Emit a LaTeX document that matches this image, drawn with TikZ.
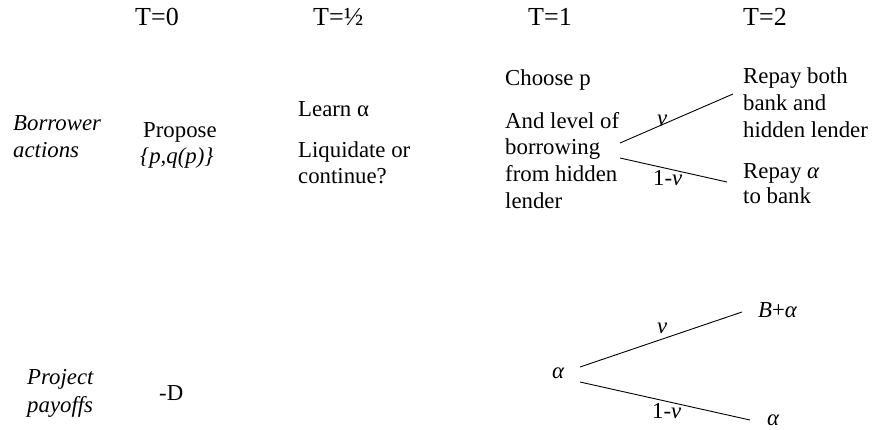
\documentclass[tikz,border=0pt]{standalone}
\usepackage{fontspec}
\setmainfont{Liberation Serif}
\begin{document}
\begin{tikzpicture}[x=1pt,y=-1pt,
  body/.style={anchor=base west,inner sep=0pt,font=\fontsize{22.8}{26}\selectfont},
  head/.style={anchor=base west,inner sep=0pt,font=\fontsize{26}{30}\selectfont},
  branch/.style={line width=0.9pt}]
\useasboundingbox (0,0) rectangle (873,429);
% headers
\node[head] (h0) at (135,25) {T=0};
\node[head] (h1) at (313,25) {T=½};
\node[head] (h2) at (528,25) {T=1};
\node[head] (h3) at (743,25) {T=2};
% row labels
\node[body] (ba1) at (13,130) {\itshape Borrower};
\node[body] (ba2) at (13,157) {\itshape actions};
\node[body] (pp1) at (27,384) {\itshape Project};
\node[body] (pp2) at (27,412) {\itshape payoffs};
% T=0
\node[body] (pr1) at (143,137) {Propose};
\node[body] (pr2) at (140,163) {\itshape \{p,q(p)\}};
\node[body] (md) at (159,400) {-D};
% T=1/2
\node[body] (le1) at (298,116) {Learn α};
\node[body] (le2) at (298,157) {Liquidate or};
\node[body] (le3) at (298,183) {continue?};
% T=1
\node[body] (ch1) at (505,85) {Choose p};
\node[body] (ch2) at (505,128) {And level of};
\node[body] (ch3) at (505,154.5) {borrowing};
\node[body] (ch4) at (505,181.5) {from hidden};
\node[body] (ch5) at (505,208) {lender};
% T=2
\node[body] (rb1) at (743,83) {Repay both};
\node[body] (rb2) at (743,110) {bank and};
\node[body] (rb3) at (743,137) {hidden lender};
\node[body] (ra1) at (743,178) {Repay \textit{α}};
\node[body] (ra2) at (743,203.5) {to bank};
% top tree
\coordinate (tu0) at (620,143);
\coordinate (tu1) at (733,94);
\coordinate (tl0) at (620,158);
\coordinate (tl1) at (727,182);
\draw[branch] (tu0) -- (tu1);
\draw[branch] (tl0) -- (tl1);
\node[body] (tnu) at (657,125) {\textit{ν}};
\node[body] (tnl) at (653,185) {1-\textit{ν}};
% bottom tree
\node[body] (a0) at (552,378) {\textit{α}};
\node[body] (ba) at (758,317) {\textit{B}+\textit{α}};
\node[body] (a2) at (767,425) {\textit{α}};
\coordinate (bu0) at (580,367);
\coordinate (bu1) at (742,312);
\coordinate (bl0) at (580,382);
\coordinate (bl1) at (750,420);
\draw[branch] (bu0) -- (bu1);
\draw[branch] (bl0) -- (bl1);
\node[body] (bnu) at (657,333) {\textit{ν}};
\node[body] (bnl) at (652,418) {1-\textit{ν}};
\end{tikzpicture}
\end{document}
